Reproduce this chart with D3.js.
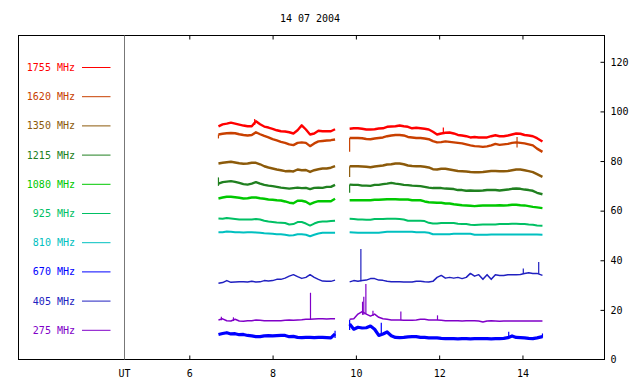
<!DOCTYPE html>
<html>
<head>
<meta charset="utf-8">
<script src="https://cdn.jsdelivr.net/npm/d3@7"></script>
<style>
  body { margin: 0; background: #fff; }
  svg text { font-family: "DejaVu Sans Mono", monospace; font-size: 10px; }
</style>
</head>
<body>
<script>
// 14 07 2004 - radio flux, several frequencies
const title = '14 07 2004';
const freqs = ['1755 MHz', '1620 MHz', '1350 MHz', '1215 MHz', '1080 MHz', '925 MHz', '810 MHz', '670 MHz', '405 MHz', '275 MHz'];
const colors = ['#ff0000', '#c84000', '#8c5a0a', '#208020', '#00c800', '#00c064', '#00c0c0', '#0000ff', '#2020c0', '#8000c8'];
const xTicks = [6, 8, 10, 12, 14];
const yTicks = [0, 20, 40, 60, 80, 100, 120];

// UT hours of the two recorded intervals
const hours1 = [6.7, 6.8, 6.9, 7.0, 7.1, 7.2, 7.3, 7.4, 7.5, 7.6, 7.7, 7.8, 7.9, 8.0, 8.1, 8.2, 8.3, 8.4, 8.5,
  8.6, 8.7, 8.8, 8.9, 9.0, 9.1, 9.2, 9.3, 9.4, 9.5];
const hours2 = [9.85, 9.95, 10.05, 10.15, 10.25, 10.35, 10.45, 10.55, 10.65, 10.75, 10.85, 10.95, 11.05, 11.15,
  11.25, 11.35, 11.45, 11.55, 11.65, 11.75, 11.85, 11.95, 12.05, 12.15, 12.25, 12.35, 12.45, 12.55, 12.65,
  12.75, 12.85, 12.95, 13.05, 13.15, 13.25, 13.35, 13.45, 13.55, 13.65, 13.75, 13.85, 13.95, 14.05, 14.15,
  14.25, 14.35, 14.48];

const f1755a = [94.0, 94.8, 95.1, 95.5, 95.1, 94.7, 94.3, 94.0, 94.0, 96.0, 94.8, 93.9, 93.5, 93.0, 92.4, 92.0, 91.9, 91.6, 91.1,
  92.4, 94.4, 92.7, 90.7, 91.1, 92.2, 92.0, 92.0, 92.0, 92.8];
const f1755b = [93.0, 93.2, 93.2, 93.0, 92.7, 92.7, 92.8, 93.1, 93.2, 93.8, 93.9, 94.0, 94.3, 94.0, 93.8, 93.2, 93.4, 93.2,
  93.0, 92.7, 91.8, 90.7, 91.1, 91.4, 91.5, 91.1, 90.5, 90.3, 90.0, 89.5, 89.7, 89.5, 89.5, 89.5, 90.0, 90.4,
  90.0, 90.0, 90.3, 90.7, 91.1, 91.0, 90.5, 90.3, 90.0, 89.2, 87.9];

const f1620a = [90.7, 91.0, 91.2, 91.3, 91.2, 90.8, 90.5, 90.3, 90.5, 91.6, 90.8, 90.1, 89.5, 88.8, 88.3, 87.7, 87.3, 86.7, 86.4,
  87.3, 87.5, 87.3, 86.0, 87.1, 87.9, 88.1, 88.3, 88.4, 88.7];
const f1620b = [89.3, 89.3, 89.3, 89.2, 88.9, 88.8, 89.1, 89.3, 89.5, 90.0, 90.3, 90.5, 90.5, 90.3, 89.7, 89.5, 89.3, 89.3,
  89.1, 88.8, 88.0, 87.5, 87.6, 87.9, 87.7, 87.5, 87.3, 87.1, 86.7, 86.3, 86.0, 85.9, 85.7, 85.9, 86.3, 86.9,
  86.5, 86.7, 86.9, 87.3, 87.5, 87.3, 87.1, 86.7, 86.3, 85.0, 83.7];

const f1350a = [79.0, 79.3, 79.5, 79.7, 79.4, 79.1, 78.9, 79.0, 79.3, 79.3, 78.7, 77.9, 77.4, 77.0, 76.6, 76.3, 75.9, 76.0, 75.8,
  76.6, 76.3, 76.4, 75.6, 76.3, 76.7, 77.0, 77.0, 77.3, 77.9];
const f1350b = [77.9, 77.9, 77.9, 77.8, 77.7, 77.5, 77.8, 78.0, 78.2, 78.6, 78.7, 79.0, 79.0, 78.7, 78.2, 78.0, 77.9, 77.9,
  77.7, 77.4, 76.7, 76.6, 76.9, 76.9, 76.6, 76.3, 76.0, 75.9, 75.8, 75.6, 75.5, 75.5, 75.6, 75.8, 76.0, 76.0,
  75.9, 75.9, 76.0, 76.3, 76.6, 76.6, 76.3, 75.9, 75.5, 74.7, 73.6];

const f1215a = [70.9, 71.5, 71.7, 71.9, 71.6, 71.2, 70.7, 70.5, 70.9, 71.5, 70.9, 70.4, 70.1, 69.9, 69.6, 69.3, 69.1, 68.9, 69.1,
  69.3, 69.1, 69.2, 68.7, 69.2, 69.3, 69.2, 69.6, 69.6, 70.4];
const f1215b = [70.5, 70.4, 70.4, 70.1, 70.1, 70.0, 70.4, 70.4, 70.7, 70.9, 71.2, 70.9, 70.7, 70.4, 70.3, 70.1, 70.0, 69.9,
  69.6, 69.3, 69.1, 69.1, 69.1, 68.9, 68.8, 68.7, 68.3, 68.3, 68.0, 68.1, 68.0, 68.0, 68.1, 68.3, 68.3, 68.3,
  68.1, 68.3, 68.5, 68.8, 68.9, 68.8, 68.5, 68.3, 68.0, 67.2, 66.6];

const f1080a = [64.9, 65.3, 65.6, 65.6, 65.4, 65.2, 64.9, 65.0, 65.3, 65.3, 65.0, 64.8, 64.5, 64.4, 64.2, 64.1, 63.7, 63.2, 63.0,
  64.0, 64.0, 63.6, 62.6, 63.3, 63.8, 63.8, 63.8, 63.8, 64.8];
const f1080b = [64.2, 64.2, 64.2, 64.2, 64.2, 64.2, 64.4, 64.4, 64.5, 64.6, 64.6, 64.6, 64.5, 64.5, 64.5, 64.2, 64.2, 64.2,
  63.7, 63.4, 63.3, 63.2, 63.2, 62.9, 62.9, 62.6, 62.4, 62.2, 62.1, 62.0, 61.8, 62.0, 62.1, 62.1, 62.1, 62.1,
  62.2, 62.1, 62.2, 62.4, 62.4, 62.2, 62.1, 61.8, 61.5, 61.3, 61.0];

const f925a = [56.8, 56.7, 57.0, 56.8, 56.6, 56.4, 56.4, 56.4, 56.4, 56.6, 56.4, 55.9, 55.6, 55.4, 55.2, 55.1, 55.0, 54.4, 54.6,
  55.4, 55.4, 54.8, 54.0, 54.8, 55.4, 55.6, 55.6, 55.8, 55.9];
const f925b = [56.7, 56.6, 56.4, 56.4, 56.3, 56.3, 56.6, 56.6, 56.6, 56.7, 56.7, 56.7, 56.6, 56.4, 55.9, 55.9, 55.9, 55.9,
  55.8, 55.1, 54.8, 54.8, 55.0, 55.0, 55.0, 55.0, 54.7, 54.6, 54.6, 54.3, 54.2, 54.3, 54.4, 54.4, 54.4, 54.4,
  54.6, 54.6, 54.6, 54.7, 54.7, 54.6, 54.6, 54.4, 54.3, 54.0, 53.9];

const f810a = [51.3, 51.3, 51.6, 51.5, 51.3, 51.3, 51.2, 51.3, 51.3, 51.2, 51.1, 50.9, 50.8, 50.7, 50.5, 50.5, 50.3, 50.0, 50.1,
  50.5, 50.5, 50.3, 49.7, 50.3, 50.8, 51.1, 51.1, 51.1, 51.1];
const f810b = [51.3, 51.2, 51.1, 51.1, 51.1, 51.1, 51.1, 51.1, 51.3, 51.5, 51.5, 51.5, 51.5, 51.5, 51.5, 51.5, 51.3, 51.3,
  51.3, 51.1, 50.5, 50.5, 50.5, 50.5, 50.5, 50.7, 50.7, 50.7, 50.7, 50.7, 50.3, 50.3, 50.3, 50.3, 50.4, 50.4,
  50.4, 50.4, 50.4, 50.4, 50.4, 50.4, 50.4, 50.4, 50.4, 50.4, 50.3];

const f670a = [10.1, 10.5, 10.8, 10.3, 10.4, 10.0, 10.1, 9.7, 9.5, 9.2, 9.2, 9.5, 9.6, 9.5, 9.6, 9.7, 9.7, 9.2, 9.3,
  8.9, 8.8, 8.9, 8.9, 8.8, 8.9, 8.9, 8.8, 8.7, 10.3];
const f670b = [14.3, 12.2, 13.0, 12.7, 12.8, 13.5, 12.2, 9.7, 10.3, 11.1, 9.6, 8.9, 8.8, 8.9, 9.1, 9.2, 9.2, 8.9,
  8.9, 8.7, 8.7, 8.7, 8.5, 8.4, 8.4, 8.4, 8.3, 8.4, 8.4, 8.3, 8.4, 8.4, 8.4, 8.4, 8.3, 8.4,
  8.4, 8.5, 8.8, 9.5, 8.9, 8.8, 8.7, 8.5, 8.4, 8.7, 9.2];

const f405a = [30.7, 31.0, 31.8, 31.1, 31.2, 31.3, 31.3, 31.2, 31.5, 31.2, 31.3, 31.8, 31.6, 31.8, 32.3, 32.3, 32.8, 33.6, 34.2,
  33.4, 32.7, 33.1, 34.2, 33.1, 32.3, 31.6, 31.5, 31.5, 32.0];
const f405b = [31.3, 31.8, 31.5, 31.8, 32.0, 32.6, 32.6, 32.0, 31.9, 31.5, 31.3, 31.3, 31.3, 31.2, 31.2, 31.2, 31.5, 31.5,
  31.3, 31.2, 31.5, 33.1, 33.9, 32.8, 33.1, 32.8, 33.1, 32.6, 33.1, 34.7, 33.6, 34.2, 32.3, 34.2, 32.3, 34.2,
  33.9, 33.9, 34.2, 34.2, 34.2, 34.3, 34.7, 35.0, 34.7, 34.7, 33.9];

const f275a = [15.9, 16.4, 15.6, 15.5, 16.2, 15.5, 15.4, 15.6, 15.6, 15.9, 15.8, 15.6, 15.6, 15.6, 15.6, 15.6, 15.8, 15.9, 15.8,
  15.9, 16.0, 16.2, 16.2, 16.3, 16.4, 16.4, 16.3, 16.4, 16.4];
const f275b = [16.2, 16.4, 18.3, 19.3, 18.3, 17.5, 18.3, 17.0, 16.4, 16.2, 15.9, 15.9, 15.9, 15.8, 15.8, 15.8, 15.9, 16.2,
  16.2, 15.9, 15.9, 15.9, 15.8, 15.6, 15.6, 15.6, 15.6, 15.5, 15.6, 15.6, 15.6, 15.5, 15.1, 15.5, 15.6, 15.5,
  15.4, 15.5, 15.5, 15.5, 15.5, 15.5, 15.5, 15.5, 15.5, 15.5, 15.5];

// short bursts / jumps: [hour, low, high]
const spikes1755 = [[7.57, 94.5, 96.9], [12.1, 91.3, 93.5]];
const spikes1620 = [[6.7, 89.1, 90.7], [9.85, 83.7, 89.3], [13.87, 85.5, 89.7]];
const spikes1350 = [[9.85, 73.6, 77.9]];
const spikes1215 = [[6.7, 70.0, 73.4], [9.85, 67.2, 70.5]];
const spikes670 = [[9.5, 8.7, 11.6], [9.85, 11.9, 16.0], [10.61, 9.8, 14.8], [13.67, 8.8, 11.2], [14.48, 8.8, 10.5]];
const spikes405 = [[10.12, 31.5, 44.5], [14.02, 34.5, 36.7], [14.39, 34.5, 39.3]];
const spikes275 = [[6.77, 15.8, 17.2], [7.06, 15.5, 17.0], [8.91, 16.2, 26.9], [10.16, 18.0, 23.3], [10.19, 18.0, 25.3],
  [10.24, 18.3, 30.4], [10.41, 17.5, 19.7], [11.08, 15.9, 19.3], [11.96, 15.9, 17.8]];

const series = [
  [f1755a, f1755b, spikes1755], [f1620a, f1620b, spikes1620], [f1350a, f1350b, spikes1350],
  [f1215a, f1215b, spikes1215], [f1080a, f1080b, []], [f925a, f925b, []], [f810a, f810b, []],
  [f670a, f670b, spikes670], [f405a, f405b, spikes405], [f275a, f275b, spikes275]
].map(([a, b, sp], i) => ({
  name: freqs[i],
  color: colors[i],
  segs: [hours1.map((t, j) => ({ t, v: a[j] })), hours2.map((t, j) => ({ t, v: b[j] }))],
  spikes: sp
}));
const widths = [2.4, 2.4, 2.4, 2.4, 2.4, 2, 2, 3.2, 1.5, 1.5];

const W = 640, H = 384;
const L = 18.5, T = 35.5, R = 604.5, B = 359.5, SEP = 124.5;

const svg = d3.select('body').append('svg')
  .attr('width', W)
  .attr('height', H);

const x = d3.scaleLinear().domain([4.444, 15.97]).range([SEP, R]);
const y = d3.scaleLinear().domain([0, 130.6]).range([B, T]);

svg.append('text')
  .attr('x', 310)
  .attr('y', 22)
  .attr('text-anchor', 'middle')
  .text(title);

// traces
const line = d3.line().x(d => x(d.t)).y(d => y(d.v));
const traces = svg.append('g');
series.forEach((s, i) => {
  s.segs.forEach(seg => {
    traces.append('path')
      .attr('d', line(seg))
      .attr('fill', 'none')
      .attr('stroke', s.color)
      .attr('stroke-width', widths[i])
      .attr('stroke-linejoin', 'round');
  });
  traces.selectAll(null)
    .data(s.spikes)
    .enter()
    .append('line')
    .attr('x1', d => x(d[0]))
    .attr('x2', d => x(d[0]))
    .attr('y1', d => y(d[1]))
    .attr('y2', d => y(d[2]))
    .attr('stroke', s.color)
    .attr('stroke-width', 1.2);
});

// frame
svg.append('rect')
  .attr('x', L).attr('y', T)
  .attr('width', R - L).attr('height', B - T)
  .attr('fill', 'none')
  .attr('stroke', '#000');
svg.append('line')
  .attr('x1', SEP).attr('x2', SEP)
  .attr('y1', T).attr('y2', B)
  .attr('stroke', '#777');

// axes
const xAxisBottom = svg.append('g')
  .attr('transform', 'translate(0,' + B + ')')
  .call(d3.axisBottom(x).tickValues(xTicks).tickSizeInner(-4).tickSizeOuter(0).tickPadding(10));
const xAxisTop = svg.append('g')
  .attr('transform', 'translate(0,' + T + ')')
  .call(d3.axisTop(x).tickValues(xTicks).tickSizeInner(-4).tickSizeOuter(0).tickFormat(''));
const yAxisRight = svg.append('g')
  .attr('transform', 'translate(' + R + ',0)')
  .call(d3.axisRight(y).tickValues(yTicks).tickSizeInner(-4).tickSizeOuter(0).tickPadding(6));
[xAxisBottom, xAxisTop, yAxisRight].forEach(a => {
  a.select('.domain').remove();
  a.attr('font-family', null).attr('font-size', null);
  a.selectAll('text').attr('fill', '#000');
});
yAxisRight.selectAll('.tick').filter(d => d === 0).select('line').remove();

svg.append('text')
  .attr('x', SEP)
  .attr('y', 377)
  .attr('text-anchor', 'middle')
  .text('UT');

// legend
const leg = svg.append('g')
  .selectAll('g')
  .data(series)
  .enter()
  .append('g')
  .attr('transform', (d, i) => 'translate(0,' + (67.5 + i * 29.2) + ')');
leg.append('text')
  .attr('x', 75)
  .attr('dy', '0.35em')
  .attr('text-anchor', 'end')
  .attr('fill', d => d.color)
  .text(d => d.name);
leg.append('line')
  .attr('x1', 82).attr('x2', 110.5)
  .attr('stroke', d => d.color);
</script>
</body>
</html>
